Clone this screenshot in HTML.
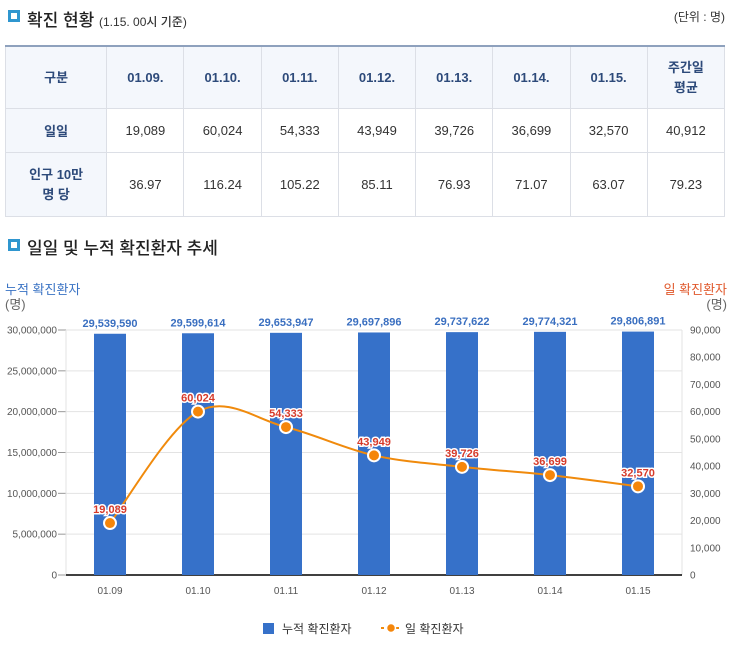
<!DOCTYPE html>
<html><head><meta charset="utf-8">
<style>
body{margin:0;width:733px;height:651px;background:#fff;font-family:"Liberation Sans","Noto Sans CJK KR",sans-serif;color:#333;position:relative;overflow:hidden}
.h{position:absolute;font-size:17px;color:#222;font-weight:500}
.h small{font-size:12px;color:#333}
.sq{position:absolute;width:6px;height:6px;border:3px solid #2f96cf;background:#fff}
table{position:absolute;left:5px;top:45px;width:720px;border-collapse:collapse;font-size:13px;table-layout:fixed}
td{border:1px solid #dcdfe6;text-align:center;color:#333;padding:0}
tr.hd td{background:#f4f7fc;color:#2d4a7a;font-weight:bold;height:61px;border-top:2px solid #8ea1bd;line-height:20px}
td.f{background:#f4f7fc;color:#2d4a7a;font-weight:bold}
</style></head><body>
<div class="sq" style="left:8px;top:10px"></div>
<div class="h" style="left:27px;top:6px">확진 현황 <small>(1.15. 00시 기준)</small></div>
<div style="position:absolute;right:8px;top:8px;font-size:12px">(단위 : 명)</div>
<table>
<colgroup><col style="width:101px"><col span="8" style="width:77px"></colgroup>
<tr class="hd"><td>구분</td><td>01.09.</td><td>01.10.</td><td>01.11.</td><td>01.12.</td><td>01.13.</td><td>01.14.</td><td>01.15.</td><td>주간일<br>평균</td></tr>
<tr style="height:44px"><td class="f">일일</td><td>19,089</td><td>60,024</td><td>54,333</td><td>43,949</td><td>39,726</td><td>36,699</td><td>32,570</td><td>40,912</td></tr>
<tr style="height:64px"><td class="f" style="line-height:20px">인구 10만<br>명 당</td><td>36.97</td><td>116.24</td><td>105.22</td><td>85.11</td><td>76.93</td><td>71.07</td><td>63.07</td><td>79.23</td></tr>
</table>
<div class="sq" style="left:8px;top:239px"></div>
<div class="h" style="left:27px;top:234px">일일 및 누적 확진환자 추세</div>
<svg id="c" width="733" height="651" style="position:absolute;left:0;top:0"></svg>
<script>
const categories=["01.09","01.10","01.11","01.12","01.13","01.14","01.15"];
const cumulative=[29539590,29599614,29653947,29697896,29737622,29774321,29806891];
const daily=[19089,60024,54333,43949,39726,36699,32570];
const leftTicks=[0,5000000,10000000,15000000,20000000,25000000,30000000];
const rightTicks=[0,10000,20000,30000,40000,50000,60000,70000,80000,90000];
const svg=document.getElementById('c');const NS='http://www.w3.org/2000/svg';
const L=66,R=682,T=330,B=575;
const yL=v=>B-(v/30000000)*(B-T), yR=v=>B-(v/90000)*(B-T);
const step=(R-L)/categories.length, xC=i=>L+step*(i+0.5);
const fmt=v=>v.toLocaleString('en-US');
function el(t,a,txt){const e=document.createElementNS(NS,t);for(const k in a)e.setAttribute(k,a[k]);if(txt!==undefined)e.textContent=txt;svg.appendChild(e);return e;}
let e;
leftTicks.forEach(v=>{
e=el('line',{x1:L,x2:R,y1:yL(v),y2:yL(v),stroke:'#e3e3e3'});


e=el('text',{x:57,y:yL(v)+3.5,'text-anchor':'end','font-size':10,fill:'#555'},fmt(v));


el('line',{x1:58,x2:L,y1:yL(v),y2:yL(v),stroke:'#999'});
});
rightTicks.forEach(v=>{
e=el('text',{x:690,y:yR(v)+3.5,'font-size':10,fill:'#555'},fmt(v));


});
el('line',{x1:L,x2:L,y1:T,y2:B,stroke:'#e3e3e3'});
el('line',{x1:R,x2:R,y1:T,y2:B,stroke:'#e3e3e3'});
el('line',{x1:L,x2:R,y1:B,y2:B,stroke:'#000','stroke-width':1.5});
e=el('text',{x:5,y:294,'font-size':13,fill:'#3a73c4'},'누적 확진환자');

el('text',{x:5,y:309,'font-size':13,fill:'#666'},'(명)');
e=el('text',{x:727,y:294,'font-size':13,fill:'#e0582b','text-anchor':'end'},'일 확진환자');

el('text',{x:727,y:309,'font-size':13,fill:'#666','text-anchor':'end'},'(명)');
categories.forEach((c,i)=>{
e=el('rect',{x:xC(i)-16,y:yL(cumulative[i]),width:32,height:B-yL(cumulative[i]),fill:'#3671c9'});


e=el('text',{x:xC(i),y:yL(cumulative[i])-7,'text-anchor':'middle','font-size':11,fill:'#3a6fc0','font-weight':'bold'},fmt(cumulative[i]));


e=el('text',{x:xC(i),y:594,'text-anchor':'middle','font-size':10,fill:'#555'},c);


});
const pts=daily.map((v,i)=>[xC(i),yR(v)]);
let d='M'+pts[0].join(',');
for(let i=0;i<pts.length-1;i++){const p0=pts[i-1]||pts[i],p1=pts[i],p2=pts[i+1],p3=pts[i+2]||p2;
d+=` C${p1[0]+(p2[0]-p0[0])/6},${p1[1]+(p2[1]-p0[1])/6} ${p2[0]-(p3[0]-p1[0])/6},${p2[1]-(p3[1]-p1[1])/6} ${p2[0]},${p2[1]}`;}
e=el('path',{d:d,fill:'none',stroke:'#f08a0c','stroke-width':2});


pts.forEach((p,i)=>{
e=el('circle',{cx:p[0],cy:p[1],r:6,fill:'#f5860a',stroke:'#fff','stroke-width':2});


e=el('text',{x:p[0],y:p[1]-10,'text-anchor':'middle','font-size':11,fill:'#d63a2a','font-weight':'bold',stroke:'#fff','stroke-width':3,'paint-order':'stroke'},fmt(daily[i]));


});
e=el('rect',{x:263,y:623,width:11,height:11,fill:'#3671c9'});

el('text',{x:282,y:633,'font-size':12,fill:'#333'},'누적 확진환자');
e=el('line',{x1:381,x2:401,y1:628,y2:628,stroke:'#f08a0c','stroke-width':2,'stroke-dasharray':'3,2'});

el('circle',{cx:391,cy:628,r:4.5,fill:'#f5860a',stroke:'#fff','stroke-width':1.5});
el('text',{x:405,y:633,'font-size':12,fill:'#333'},'일 확진환자');
</script>
</body></html>
